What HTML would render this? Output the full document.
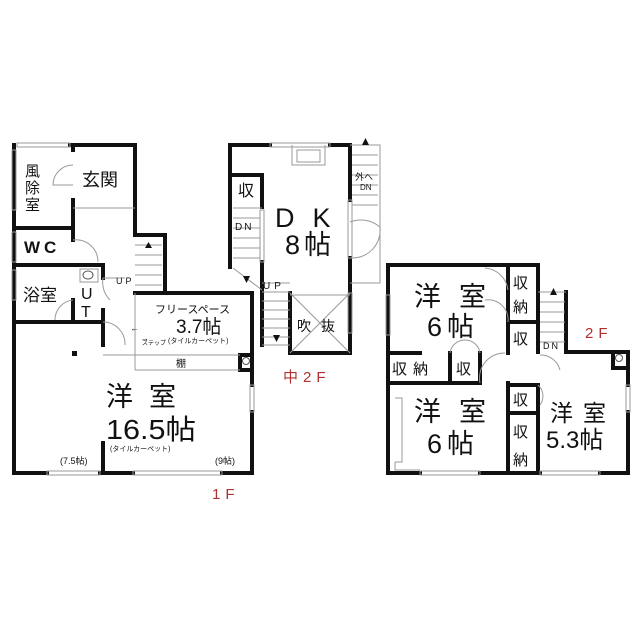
<!DOCTYPE html>
<html><head><meta charset="utf-8"><style>
html,body{margin:0;padding:0;background:#fff}
svg{display:block}
text{font-family:"Liberation Sans","Noto Sans CJK JP",sans-serif;fill:#111}
.r{fill:#b03030}
</style></head><body>
<svg width="640" height="640" viewBox="0 0 640 640" xmlns="http://www.w3.org/2000/svg">
<g fill="none" stroke="#111" stroke-width="4" stroke-linecap="square">
<path d="M70 145 H135 V235 H165 V292"/>
<path d="M14 145 V473 H47 M100 473 H133 M222 473 H252 V412 M252 385 V355 V293 H135"/>
<path d="M73 145 V150 M73 200 V228"/>
<path d="M14 228 H73 V240 M14 265 H103 V278 M103 310 V322 M73 300 V322"/>
<path d="M14 322 H103 V345 M103 443 V473"/>
<path d="M240 355 H252 M240 355 V370 H252"/>
<path d="M230 145 V175 H262 V207 M230 175 V267 M232 145 H270 M330 145 H350 V200 M350 258 V353 H290 V293 M262 262 V345"/>
<path d="M388 265 H538 V352 M538 265 V292 M388 265 V353 V473 H420 M480 473 H540 M600 473 H628 V412 M628 385 V352 H566 V292"/>
<path d="M508 265 V353 M508 322 H538 M388 353 H420 M450 353 V383 M480 353 V383 H388 M388 383 H480"/>
<path d="M508 383 V473 M508 385 H538 V473 M508 413 H538"/>
<path d="M613 352 V368 H628"/>
</g>
<g fill="none" stroke="#999" stroke-width="1">
<rect x="17" y="143" width="53" height="4"/><rect x="12" y="150" width="4" height="60"/>
<rect x="12" y="232" width="4" height="30"/><rect x="12" y="270" width="4" height="30"/>
<rect x="47" y="471" width="53" height="4"/><rect x="133" y="471" width="89" height="4"/>
<rect x="250" y="385" width="4" height="27"/>
<rect x="270" y="143" width="60" height="4"/><rect x="348" y="200" width="4" height="58"/>
<rect x="386" y="295" width="4" height="40"/><rect x="420" y="471" width="60" height="4"/>
<rect x="540" y="471" width="60" height="4"/><rect x="626" y="385" width="4" height="27"/>
<rect x="260" y="210" width="4" height="52"/><rect x="348" y="293" width="4" height="40"/>
<path d="M73 208 H135 M135 355 H240 M135 370 H240 M135 293 V370 M103 355 H135"/>
<path d="M292 145 V165 H325 V145 M297 150 H320 V162 H297 Z"/>
<path d="M350 145 H380 V283 H350 M290 293 L350 353 M350 293 L290 353 M290 295 H350"/>
<path d="M233 208 H262 M233 268 L262 290 M262 283 H290 M262 345 H290"/>
<path d="M538 292 H566"/>
<path d="M395 398 H402 V462 H395 M395 462 V470 H420"/>
<path d="M135 245 H162 M135 255 H162 M135 265 H162 M135 275 H162 M135 285 H162"/>
<path d="M233 218 H260 M233 228 H260 M233 238 H260 M233 248 H260 M233 258 H260"/>
<path d="M262 292 H290 M262 301 H290 M262 310 H290 M262 319 H290 M262 328 H290 M262 337 H290"/>
<path d="M352 155 H378 M352 165 H378 M352 175 H378 M352 185 H378 M352 195 H378 M352 205 H378"/>
<path d="M540 302 H565 M540 312 H565 M540 322 H565 M540 332 H565 M540 342 H565"/>
<path d="M73 165 A20 20 0 0 0 53 185 H73 M73 240 A22 22 0 0 1 98 262 M103 278 A25 25 0 0 0 110 300 M73 300 A20 20 0 0 0 55 320 M103 322 A22 22 0 0 1 125 345 M103 278 H125"/>
<path d="M350 222 A30 30 0 0 1 380 227 M350 258 A28 28 0 0 0 380 227"/>
<path d="M485 268 A25 25 0 0 1 508 290 M485 300 A20 20 0 0 1 508 322 M450 353 A15 15 0 0 1 465 340 M480 353 A15 15 0 0 0 465 340 M480 383 A25 25 0 0 1 505 353 M540 355 A20 20 0 0 1 560 370 M538 385 A15 15 0 0 1 540 405"/>
</g>
<circle cx="246" cy="361" r="3.5" fill="none" stroke="#555"/>
<circle cx="619" cy="358" r="3.5" fill="none" stroke="#555"/>
<rect x="80" y="269" width="18" height="13" fill="none" stroke="#999"/>
<ellipse cx="88" cy="275" rx="5" ry="4" fill="none" stroke="#555"/>
<rect x="72" y="351" width="5" height="5" fill="#111"/>
<polygon points="145,248 152,248 148.5,242" fill="#111"/>
<polygon points="243,276 250,276 246.5,283" fill="#111"/>
<polygon points="273,335 280,335 276.5,342" fill="#111"/>
<polygon points="362,145 369,145 365.5,138" fill="#111"/>
<polygon points="550,295 557,295 553.5,288" fill="#111"/>
<text x="25" y="176" font-size="15">風</text><text x="25" y="193" font-size="15">除</text><text x="25" y="210" font-size="15">室</text>
<text x="82" y="186" font-size="18">玄関</text>
<text x="24" y="253" font-size="17" letter-spacing="4" font-weight="bold">WC</text>
<text x="23" y="301" font-size="17">浴室</text>
<text x="81" y="299" font-size="16">U</text><text x="81" y="317" font-size="16">T</text>
<text x="116" y="284" font-size="9" letter-spacing="3">UP</text>
<text x="155" y="313" font-size="11">フリースペース</text>
<text x="176" y="333" font-size="19">3.7帖</text>
<text x="168" y="343" font-size="7">(タイルカーペット)</text>
<text x="142" y="345" font-size="6" fill="#666">ステップ</text>
<text x="130" y="331" font-size="9">←</text><text x="140" y="341" font-size="9">→</text>
<text x="176" y="367" font-size="10">棚</text>
<text x="106" y="406" font-size="27" letter-spacing="16">洋室</text>
<text x="106" y="439" font-size="28" textLength="90" lengthAdjust="spacingAndGlyphs">16.5帖</text>
<text x="110" y="451" font-size="7">(タイルカーペット)</text>
<text x="60" y="464" font-size="9">(7.5帖)</text>
<text x="215" y="464" font-size="9">(9帖)</text>
<text x="212" y="499" font-size="15" class="r" letter-spacing="5">1F</text>
<text x="238" y="196" font-size="16">収</text>
<text x="235" y="230" font-size="10" letter-spacing="2">DN</text>
<text x="275" y="227" font-size="27" letter-spacing="18">DK</text>
<text x="285" y="254" font-size="27" letter-spacing="4">8帖</text>
<text x="263" y="289" font-size="10" letter-spacing="4">UP</text>
<text x="297" y="331" font-size="14" letter-spacing="10">吹抜</text>
<text x="355" y="180" font-size="9">外へ</text><text x="360" y="190" font-size="8">DN</text>
<text x="283" y="382" font-size="15" class="r" letter-spacing="5">中2F</text>
<text x="414" y="306" font-size="27" letter-spacing="18">洋室</text>
<text x="427" y="336" font-size="27" letter-spacing="5">6帖</text>
<text x="513" y="288" font-size="15">収</text><text x="513" y="312" font-size="15">納</text>
<text x="513" y="344" font-size="15">収</text>
<text x="543" y="349" font-size="9" letter-spacing="2">DN</text>
<text x="585" y="338" font-size="15" class="r" letter-spacing="5">2F</text>
<text x="392" y="374" font-size="15" letter-spacing="6">収納</text>
<text x="456" y="374" font-size="15">収</text>
<text x="414" y="421" font-size="27" letter-spacing="18">洋室</text>
<text x="427" y="453" font-size="27" letter-spacing="5">6帖</text>
<text x="513" y="405" font-size="15">収</text>
<text x="513" y="437" font-size="15">収</text><text x="513" y="465" font-size="15">納</text>
<text x="550" y="421" font-size="23" letter-spacing="10">洋室</text>
<text x="546" y="448" font-size="24">5.3帖</text>
</svg>
</body></html>
